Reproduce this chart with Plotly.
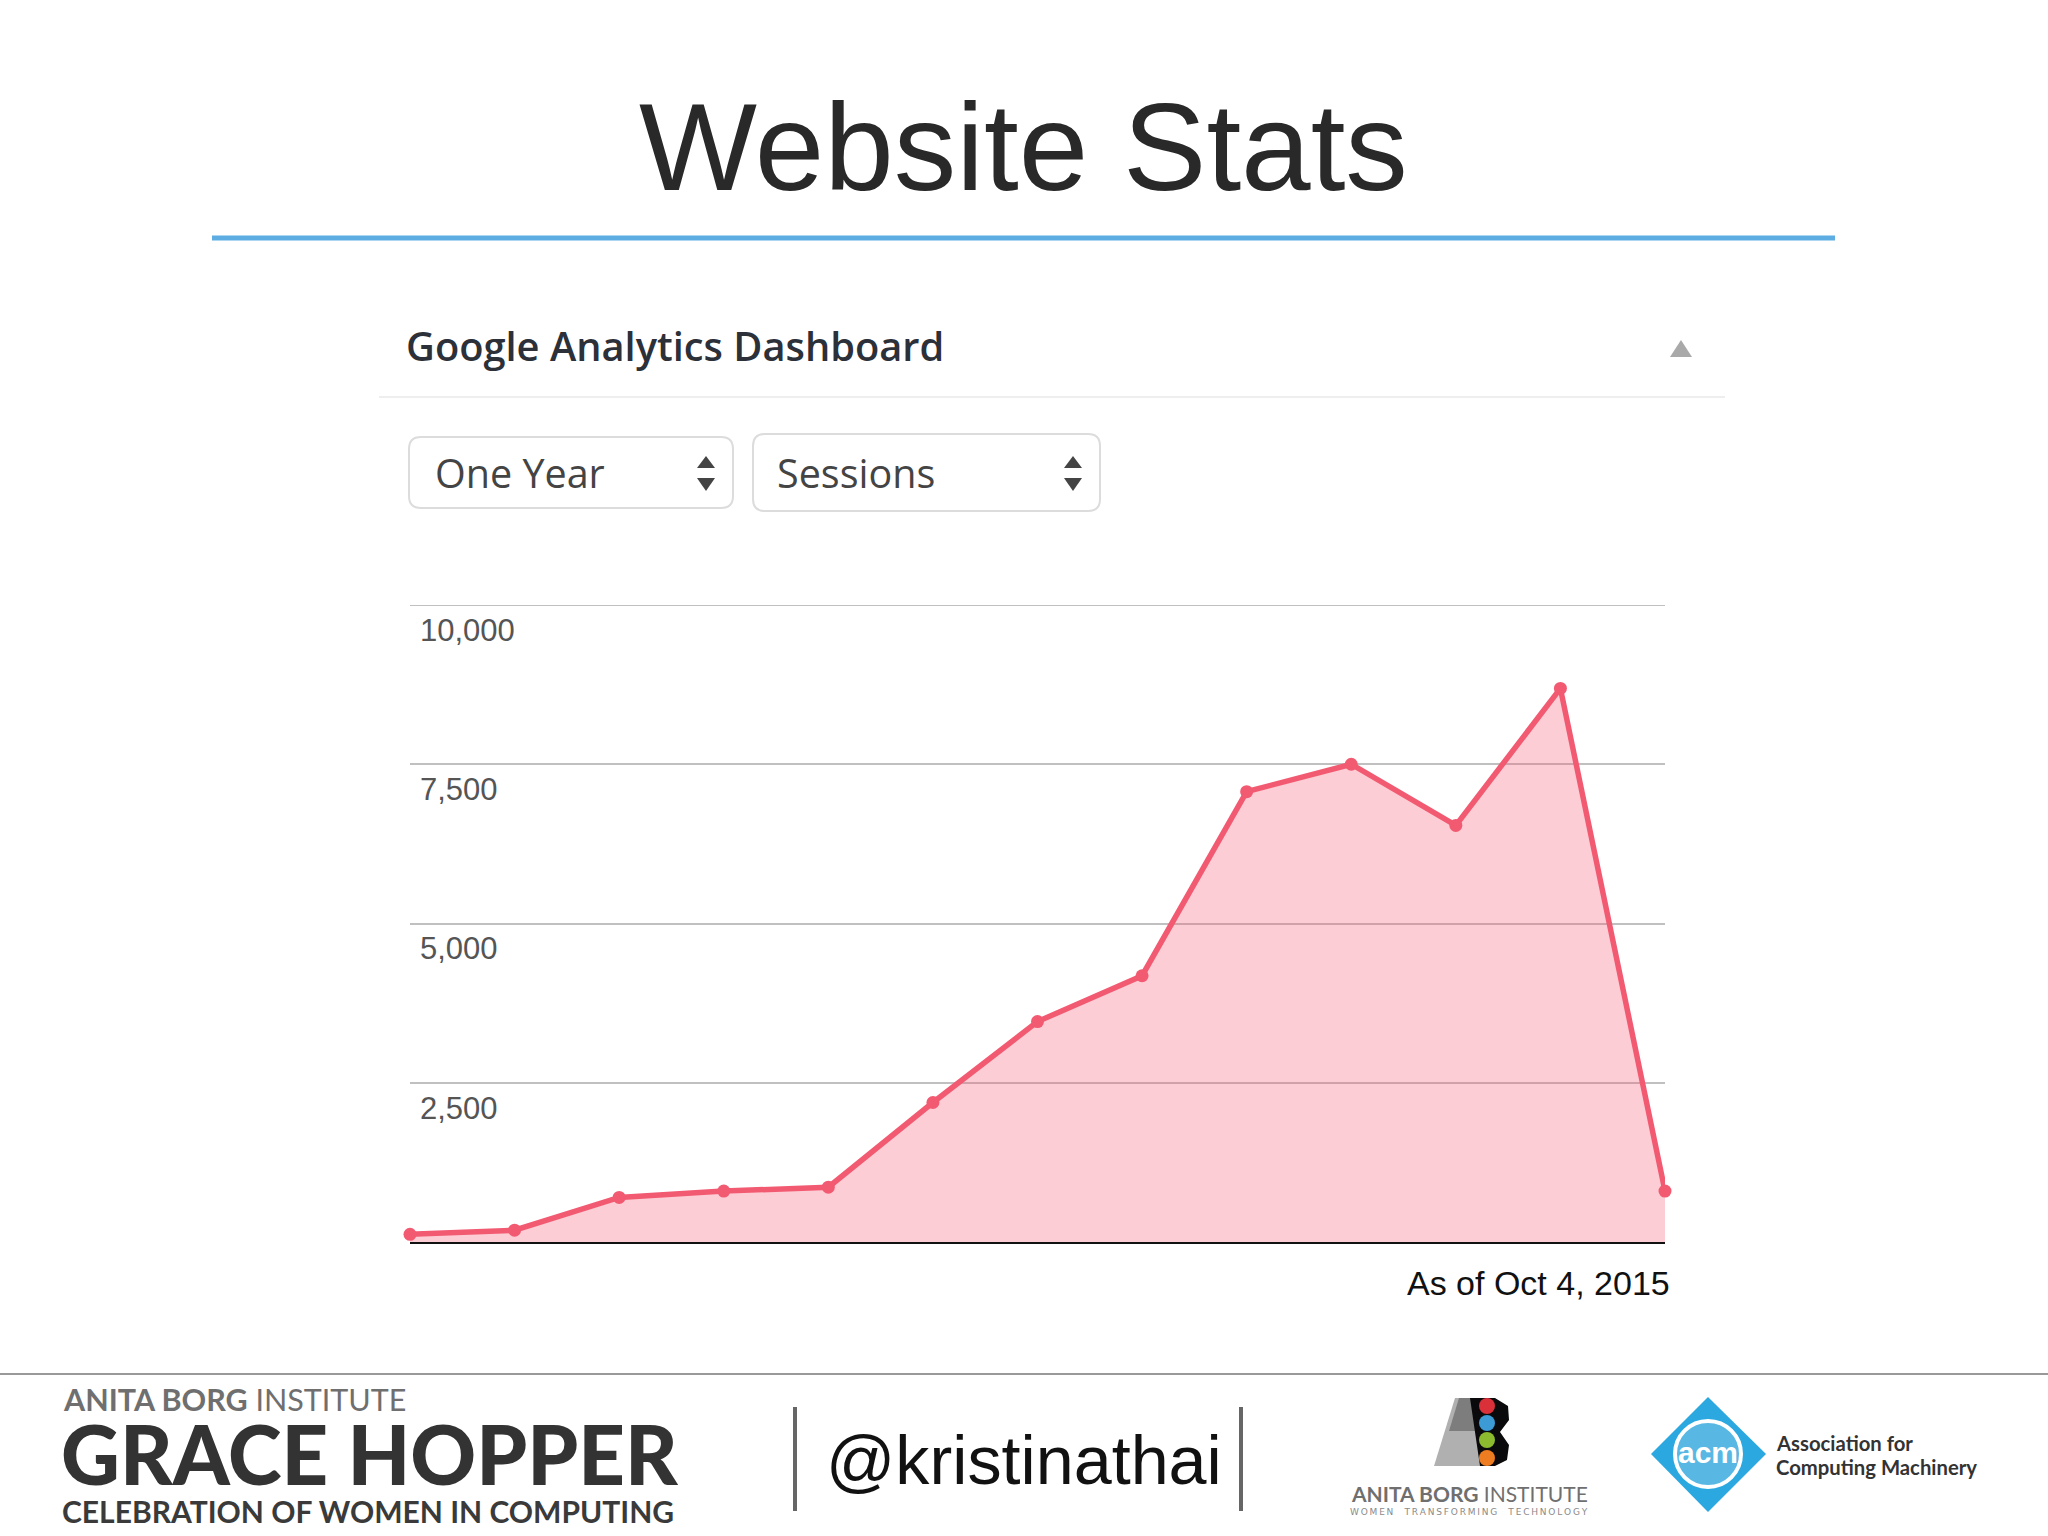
import plotly.graph_objects as go

W = 2048
H = 1536

# monthly sessions
months = ["Oct 14", "Nov 14", "Dec 14", "Jan 15", "Feb 15", "Mar 15", "Apr 15",
          "May 15", "Jun 15", "Jul 15", "Aug 15", "Sep 15", "Oct 15"]
sessions = [120, 185, 700, 800, 860, 2190, 3460, 4180, 7070, 7500, 6540, 8690, 800]
y_ticks = [2500, 5000, 7500, 10000]
y_tick_labels = ["2,500", "5,000", "7,500", "10,000"]

LINE = "#f25a72"
FILL = "rgba(247,90,115,0.3)"
GRID = "#c0c0c0"


def px(x):
    return x / W


def py(y):
    return 1 - y / H


shapes = []
annotations = []


def rule(x0, y0, x1, y1, color, width):
    shapes.append(dict(type="line", xref="paper", yref="paper", x0=px(x0), x1=px(x1),
                       y0=py(y0), y1=py(y1), line=dict(color=color, width=width)))


def poly(points, fill, line_color=None, line_width=0, closed=True):
    d = "M " + " L ".join(f"{px(a):.5f},{py(b):.5f}" for a, b in points)
    if closed:
        d += " Z"
    shapes.append(dict(type="path", xref="paper", yref="paper", path=d, fillcolor=fill,
                       line=dict(color=line_color or fill, width=line_width)))


def oval(cx, cy, rx, ry, fill, line_color=None, line_width=0):
    shapes.append(dict(type="circle", xref="paper", yref="paper",
                       x0=px(cx - rx), x1=px(cx + rx), y0=py(cy + ry), y1=py(cy - ry),
                       fillcolor=fill, line=dict(color=line_color or fill, width=line_width)))


def round_box(x0, y0, x1, y1, r, color):
    d = (f"M {px(x0 + r)},{py(y0)} L {px(x1 - r)},{py(y0)} "
         f"Q {px(x1)},{py(y0)} {px(x1)},{py(y0 + r)} L {px(x1)},{py(y1 - r)} "
         f"Q {px(x1)},{py(y1)} {px(x1 - r)},{py(y1)} L {px(x0 + r)},{py(y1)} "
         f"Q {px(x0)},{py(y1)} {px(x0)},{py(y1 - r)} L {px(x0)},{py(y0 + r)} "
         f"Q {px(x0)},{py(y0)} {px(x0 + r)},{py(y0)} Z")
    shapes.append(dict(type="path", xref="paper", yref="paper", path=d,
                       fillcolor="white", line=dict(color=color, width=2)))


def label(x, y, text, size, color="#222222", family="Liberation Sans", anchor="left", weight=None):
    font = dict(size=size, color=color, family=family)
    if weight:
        font["weight"] = weight
    annotations.append(dict(xref="paper", yref="paper", x=px(x), y=py(y), text=text,
                            showarrow=False, xanchor=anchor, yanchor="middle", font=font,
                            borderpad=0, borderwidth=0))


# slide header
label(1023, 146, "Website Stats", 125, color="#292929", anchor="center")
rule(212, 238, 1835, 238, "#5dade2", 5)

# dashboard header and selects
label(406, 346, "Google Analytics Dashboard", 39.8, color="#2c3038", family="Open Sans", weight=600)
rule(379, 397, 1725, 397, "#eeeeee", 2)
poly([(1670, 357), (1692, 357), (1681, 340)], "#a9a9a9")

round_box(409, 437, 733, 508, 12, "#dcdcdc")
round_box(753, 434, 1100, 511, 12, "#dcdcdc")
label(435, 473, "One Year", 39.5, color="#444444", family="Open Sans")
label(777, 473, "Sessions", 39.5, color="#444444", family="Open Sans")
for ax in (706, 1073):
    poly([(ax - 9, 468), (ax + 9, 468), (ax, 456)], "#444444")
    poly([(ax - 9, 478), (ax + 9, 478), (ax, 491)], "#444444")

# the top gridline sits on the axis edge, so draw it as a shape
shapes.append(dict(type="line", xref="paper", yref="y", x0=px(410), x1=px(1665),
                   y0=y_ticks[-1], y1=y_ticks[-1], line=dict(color=GRID, width=2)))

# y labels sit just under their gridlines
for tick, text in zip(y_ticks, y_tick_labels):
    annotations.append(dict(xref="paper", yref="y", x=px(418), y=tick, yshift=-6,
                            text=text, showarrow=False, xanchor="left", yanchor="top",
                            font=dict(size=31, color="#555555", family="Liberation Sans")))

label(1670, 1283, "As of Oct 4, 2015", 34, color="#111111", anchor="right")

# footer
rule(0, 1374, 2048, 1374, "#999999", 2)
label(63, 1399, "<b>ANITA BORG</b> INSTITUTE", 30.5, color="#6f6f6f", family="Lato")
label(61, 1453, "GRACE HOPPER", 81.3, color="#333333", family="Lato", weight=900)
label(62, 1511, "CELEBRATION OF WOMEN IN COMPUTING", 30, color="#3a3a3a", family="Lato", weight=700)
rule(795, 1407, 795, 1511, "#666666", 4)
rule(1241, 1407, 1241, 1511, "#666666", 4)
label(826, 1460, "@kristinathai", 68.3, color="#111111")

# Anita Borg logo
poly([(1455, 1398), (1434, 1466), (1480, 1466), (1480, 1398)], "#b0b0b0")
poly([(1449, 1431), (1459, 1398), (1480, 1398), (1480, 1431)], "#7d7d7d")
poly([(1470, 1398), (1495, 1398), (1508, 1406), (1509, 1420), (1500, 1432), (1509, 1445),
      (1507, 1460), (1495, 1466), (1480, 1466)], "#0a0a0c")
oval(1487, 1406, 8, 8, "#d9303a")
oval(1487, 1423, 8, 8, "#3c9ad4")
oval(1487, 1440, 8, 8, "#8dbb2f")
oval(1487, 1458, 8, 8, "#ee7d22")
label(1351, 1493, "<b>ANITA BORG</b> INSTITUTE", 21, color="#6f6f6f", family="Lato")
label(1350, 1512, "\u2009".join("WOMEN  TRANSFORMING  TECHNOLOGY"), 9, color="#8a8a8a", family="DejaVu Sans")

# ACM logo
poly([(1708, 1397), (1766, 1454), (1708, 1512), (1651, 1454)], "#2aa8df")
oval(1708, 1454, 33, 33, "#58b7e3", "white", 4)
label(1708, 1452, "<b>acm</b>", 30, color="white", anchor="center", family="Liberation Sans")
label(1776, 1443, "Association for", 20.3, color="#333333", family="Lato", weight=700)
label(1776, 1467, "Computing Machinery", 20.3, color="#333333", family="Lato", weight=700)

fig = go.Figure(go.Scatter(
    x=months,
    y=sessions,
    mode="lines+markers",
    fill="tozeroy",
    fillcolor=FILL,
    line=dict(color=LINE, width=5.5),
    marker=dict(color=LINE, size=13),
    cliponaxis=False,
    hoverinfo="skip",
))

fig.update_layout(
    width=W,
    height=H,
    margin=dict(l=0, r=0, t=0, b=0),
    paper_bgcolor="white",
    plot_bgcolor="rgba(0,0,0,0)",
    showlegend=False,
    shapes=shapes,
    annotations=annotations,
    xaxis=dict(domain=[px(410), px(1665)], range=[0, 12], showgrid=False, zeroline=False,
               showticklabels=False, ticks="", showline=True, linecolor="#111111", linewidth=2),
    yaxis=dict(domain=[py(1242), py(605)], range=[0, 10000], tickvals=y_ticks,
               showticklabels=False, ticks="", gridcolor=GRID, gridwidth=2,
               zeroline=False, showline=False),
)

# drop the default page margin so paper coordinates line up with the window
fig.write_html("out.html", config=dict(displayModeBar=False),
               post_script="document.body.style.margin='0';")
